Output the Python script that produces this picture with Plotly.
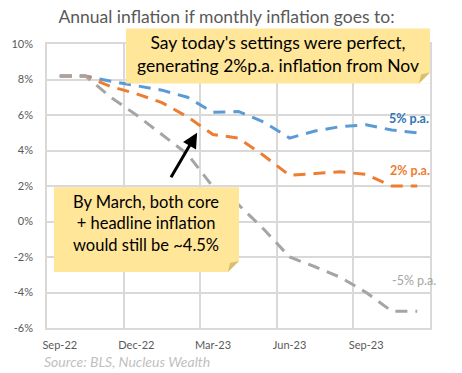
import plotly.graph_objects as go

months = ["Sep-22", "Oct-22", "Nov-22", "Dec-22", "Jan-23", "Feb-23", "Mar-23", "Apr-23",
          "May-23", "Jun-23", "Jul-23", "Aug-23", "Sep-23", "Oct-23", "Nov-23"]
pa5 = [8.2, 8.2, 7.9, 7.65, 7.4, 7.0, 6.15, 6.2, 5.6, 4.7, 5.1, 5.35, 5.45, 5.15, 5.0]
pa2 = [8.2, 8.2, 7.6, 7.2, 6.7, 5.9, 4.9, 4.7, 3.7, 2.6, 2.7, 2.8, 2.65, 2.0, 2.0]
pam5 = [8.2, 8.2, 7.0, 6.0, 4.9, 3.8, 1.95, 0.95, -0.45, -2.0, -2.55, -3.15, -4.0, -5.05, -5.05]
y_ticks = [-6, -4, -2, 0, 2, 4, 6, 8, 10]

W, H = 462, 373
L, R, T, B = 47, 430, 43.5, 328

def px(x):
    return (x - L) / (R - L)

def py(y):
    return (B - y) / (B - T)

xi = list(range(len(months)))

fig = go.Figure()
dash = "12px,8px"
fig.add_trace(go.Scatter(x=xi, y=pa5, mode="lines", line=dict(color="#5B9BD5", width=3, dash=dash)))
fig.add_trace(go.Scatter(x=xi, y=pa2, mode="lines", line=dict(color="#ED7D31", width=3, dash=dash)))
fig.add_trace(go.Scatter(x=xi, y=pam5, mode="lines", line=dict(color="#A5A5A5", width=3, dash=dash)))

grid = "#D9D9D9"
fig.update_layout(
    width=W, height=H,
    margin=dict(l=L, r=W - R, t=T, b=H - B),
    paper_bgcolor="white", plot_bgcolor="white",
    showlegend=False,
    font=dict(family="Lato, Open Sans, sans-serif", color="#595959"),
    title=dict(text="Annual inflation if monthly inflation goes to:", x=226.5 / W, xanchor="center",
               y=1 - 17 / H, yanchor="middle", font=dict(size=17.5, color="#595959")),
    xaxis=dict(range=[-0.5, len(months) - 0.5], tickvals=xi[::3], ticktext=months[::3],
               showgrid=False, ticks="", tickfont=dict(size=11, color="#595959"),
               ticklabelstandoff=6,
               showline=True, mirror=True, linecolor=grid, linewidth=1.5, zeroline=False,
               minor=dict(tick0=-0.5, dtick=3, showgrid=True, gridcolor=grid, gridwidth=1.5, ticks="")),
    yaxis=dict(range=[-6, 10], tickvals=y_ticks, ticktext=[f"{v}%" for v in y_ticks],
               showgrid=True, gridcolor=grid, gridwidth=1.5, ticks="", zeroline=False,
               tickfont=dict(size=11, color="#595959"), ticklabelstandoff=10,
               showline=True, mirror=True, linecolor=grid, linewidth=1.5),
)

note_bg = "#FFE699"
fold = "#D6BE73"
shapes = []
for (x0, y0, x1, y1) in [(126, 28, 430, 83), (54, 187, 239, 272)]:
    shapes.append(dict(type="rect", xref="paper", yref="paper", x0=px(x0), x1=px(x1), y0=py(y1), y1=py(y0),
                       fillcolor=note_bg, line=dict(width=0), layer="above"))
    d = 11
    shapes.append(dict(type="path", xref="paper", yref="paper",
                       path=f"M {px(x1-d)},{py(y1)} L {px(x1)},{py(y1)} L {px(x1)},{py(y1-d)} Z",
                       fillcolor="white", line=dict(width=0), layer="above"))
    shapes.append(dict(type="path", xref="paper", yref="paper",
                       path=f"M {px(x1-d)},{py(y1)} L {px(x1)},{py(y1-d)} L {px(x1-d+2)},{py(y1-d+2)} Z",
                       fillcolor=fold, line=dict(width=0), layer="above"))
fig.update_layout(shapes=shapes)

fig.add_annotation(xref="paper", yref="paper", x=px(278), y=py(54), xanchor="center", yanchor="middle",
                   text="Say today's settings were perfect,<br>generating 2%p.a. inflation from Nov",
                   showarrow=False, font=dict(family="Lato, sans-serif", size=17.5, color="black"))
fig.add_annotation(xref="paper", yref="paper", x=px(146), y=py(223), xanchor="center", yanchor="middle",
                   text="By March, both core<br>+ headline inflation<br>would still be ~4.5%",
                   showarrow=False, font=dict(family="Lato, sans-serif", size=16.5, color="black"))

# arrow
fig.add_annotation(x=5.38, y=5.0, xref="x", yref="y", ax=-27, ay=46, text="", showarrow=True,
                   arrowhead=2, arrowsize=1, arrowwidth=3, arrowcolor="black")

# series labels
fig.add_annotation(x=13.66, y=5.8, text="<b>5% p.a.</b>", showarrow=False, xanchor="center",
                   font=dict(size=12.5, color="#2E75B6"))
fig.add_annotation(x=13.7, y=2.87, text="<b>2% p.a.</b>", showarrow=False, xanchor="center",
                   font=dict(size=12.5, color="#ED7D31"))
fig.add_annotation(x=13.86, y=-3.32, text="-5% p.a.", showarrow=False, xanchor="center",
                   font=dict(size=12.5, color="#A5A5A5"))

fig.add_annotation(xref="paper", yref="paper", x=px(42), y=py(362), xanchor="left", yanchor="middle",
                   text="<i>Source: BLS, Nucleus Wealth</i>", showarrow=False,
                   font=dict(size=14, color="#BFBFBF"))

fig.write_html("out.html", config={"displayModeBar": False},
               post_script="document.body.style.margin='0';document.body.style.overflow='hidden';")
